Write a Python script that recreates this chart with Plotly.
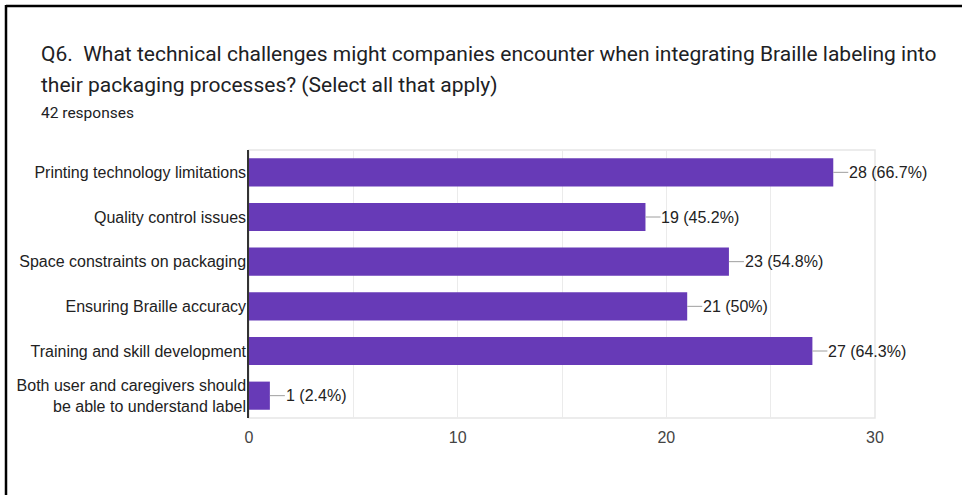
import plotly.graph_objects as go

# Survey answers (multi-select) and response counts
categories = [
    "Printing technology limitations",
    "Quality control issues",
    "Space constraints on packaging",
    "Ensuring Braille accuracy",
    "Training and skill development",
    "Both user and caregivers should<br>be able to understand label",
]
counts = [28, 19, 23, 21, 27, 1]
total_responses = 42
tick_values = [0, 5, 10, 15, 20, 25, 30]
tick_labels = ["0", "", "10", "", "20", "", "30"]

title_line1 = "Q6.  What technical challenges might companies encounter when integrating Braille labeling into"
title_line2 = "their packaging processes? (Select all that apply)"
subtitle = f"{total_responses} responses"

W, H = 962, 495
L, R, T, B = 249, 875, 150, 418  # plot area in pixels


def px_x(px):
    return (px - L) / (R - L)


def px_y(py):
    return (B - py) / (B - T)


def pct_text(v):
    p = round(v / total_responses * 100, 1)
    s = f"{p:.1f}".rstrip("0").rstrip(".")
    return f"{v} ({s}%)"


fig = go.Figure(
    go.Bar(
        x=counts,
        y=categories,
        orientation="h",
        marker=dict(color="#673ab7", line=dict(width=0)),
        hoverinfo="skip",
    )
)

annotations = []
for c, v in zip(categories, counts):
    annotations.append(
        dict(
            x=v, y=c, xref="x", yref="y",
            text=pct_text(v),
            showarrow=True, arrowhead=0, arrowwidth=1, arrowcolor="#9e9e9e",
            ax=15, ay=0, xanchor="left", yanchor="middle",
            borderpad=0,
            font=dict(family="Arial, Liberation Sans", size=16, color="#222222"),
        )
    )

annotations += [
    dict(x=px_x(39), y=px_y(54), xref="paper", yref="paper", text=title_line1,
         showarrow=False, xanchor="left", yanchor="middle",
         font=dict(family="Roboto", size=21, color="#202124")),
    dict(x=px_x(39), y=px_y(85), xref="paper", yref="paper", text=title_line2,
         showarrow=False, xanchor="left", yanchor="middle",
         font=dict(family="Roboto", size=21, color="#202124")),
    dict(x=px_x(39), y=px_y(113), xref="paper", yref="paper", text=subtitle,
         showarrow=False, xanchor="left", yanchor="middle",
         font=dict(family="Roboto", size=15.5, color="#202124")),
]

shapes = [
    # light frame round the plot area
    dict(type="rect", xref="paper", yref="paper", x0=0, x1=1, y0=0, y1=1,
         line=dict(color="#e6e6e6", width=1.5), layer="below"),
    # outer black frame (top and left edges)
    dict(type="line", xref="paper", yref="paper",
         x0=px_x(6), x1=px_x(W + 5), y0=px_y(6), y1=px_y(6),
         line=dict(color="black", width=2.5)),
    dict(type="line", xref="paper", yref="paper",
         x0=px_x(6), x1=px_x(6), y0=px_y(5), y1=px_y(H + 5),
         line=dict(color="black", width=2.5)),
]

fig.update_layout(
    width=W, height=H,
    margin=dict(l=L, r=W - R, t=T, b=H - B, pad=0),
    paper_bgcolor="white", plot_bgcolor="white",
    bargap=0.37,
    showlegend=False,
    annotations=annotations,
    shapes=shapes,
    xaxis=dict(
        range=[0, 30], tickvals=tick_values, ticktext=tick_labels,
        showgrid=True, gridcolor="#ebebeb", gridwidth=1,
        zeroline=False, showline=False, ticks="", ticklabelstandoff=8,
        tickfont=dict(family="Arial, Liberation Sans", size=16, color="#444444"),
        fixedrange=True,
    ),
    yaxis=dict(
        autorange="reversed", showgrid=False, zeroline=False,
        showline=True, linecolor="#333333", linewidth=1.5,
        ticks="", ticklabelstandoff=-2,
        tickfont=dict(family="Arial, Liberation Sans", size=16, color="#222222"),
        fixedrange=True,
    ),
)

fig.write_html("out.html", config={"displayModeBar": False})
